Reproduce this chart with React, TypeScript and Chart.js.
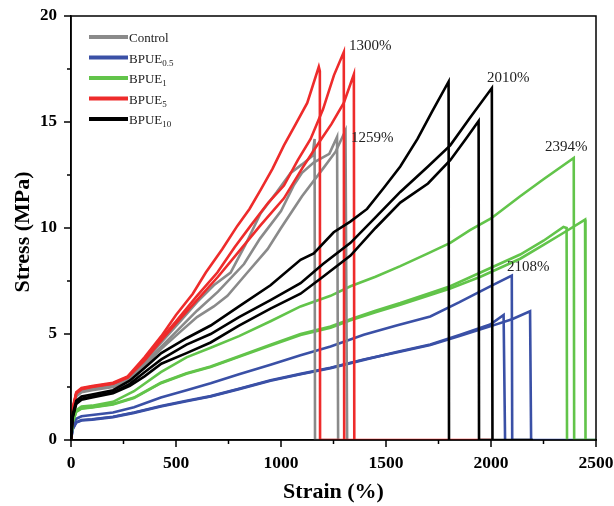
import React, { useEffect, useRef } from "react";
import { Chart, registerables } from "chart.js";

Chart.register(...registerables);

type P = [number, number];

// Control (gray)
const controlA: P[] = [[0,0],[8,1.4],[25,2.15],[50,2.35],[100,2.45],[200,2.6],[270,2.9],[350,3.7],[430,4.6],[520,5.6],[600,6.5],[680,7.3],[760,7.9],[830,9.2],[903,10.7],[980,11.7],[1046,12.6],[1100,13.0],[1150,13.4],[1160,14.2],[1162,0],[1272,0]];
const controlB: P[] = [[0,0],[8,1.35],[25,2.1],[50,2.3],[100,2.4],[200,2.55],[270,2.85],[350,3.6],[430,4.4],[520,5.3],[600,6.1],[700,7.0],[824,8.3],[900,9.5],[1000,10.8],[1060,12.0],[1100,12.6],[1157,13.1],[1230,13.5],[1267,14.3],[1272,0]];
const controlC: P[] = [[0,0],[8,1.3],[25,2.05],[50,2.25],[100,2.35],[200,2.5],[270,2.8],[350,3.5],[430,4.3],[520,5.1],[600,5.8],[680,6.3],[745,6.8],[840,7.9],[936,9.0],[1000,10.0],[1100,11.5],[1200,12.8],[1260,13.6],[1307,14.6],[1315,0]];

// BPUE0.5 (blue)
const bpue05A: P[] = [[0,0],[8,0.65],[25,1.0],[50,1.12],[100,1.18],[200,1.3],[300,1.55],[428,2.0],[550,2.35],[665,2.68],[800,3.1],[950,3.55],[1093,4.0],[1236,4.41],[1394,4.96],[1550,5.4],[1711,5.83],[1850,6.5],[1996,7.25],[2099,7.75],[2101,0],[2500,0]];
const bpue05B: P[] = [[0,0],[8,0.5],[25,0.82],[50,0.92],[100,0.96],[200,1.08],[300,1.28],[428,1.58],[550,1.83],[665,2.05],[800,2.4],[950,2.8],[1093,3.1],[1236,3.39],[1394,3.78],[1550,4.15],[1711,4.5],[1850,4.95],[1996,5.45],[2060,5.9],[2067,0]];
const bpue05C: P[] = [[0,0],[8,0.52],[25,0.84],[50,0.94],[100,0.98],[200,1.1],[300,1.3],[428,1.6],[550,1.85],[665,2.07],[800,2.42],[950,2.82],[1093,3.12],[1236,3.41],[1394,3.8],[1550,4.13],[1711,4.48],[1850,4.9],[1996,5.36],[2100,5.7],[2186,6.07],[2191,0]];

// BPUE1 (green)
const bpue1A: P[] = [[0,0],[8,0.9],[25,1.4],[50,1.58],[100,1.62],[200,1.8],[300,2.3],[428,3.2],[550,3.9],[665,4.35],[800,4.9],[950,5.6],[1093,6.3],[1236,6.8],[1331,7.25],[1450,7.7],[1568,8.2],[1700,8.8],[1806,9.3],[1900,9.9],[2000,10.45],[2139,11.5],[2250,12.3],[2394,13.3],[2396,0],[2500,0]];
const bpue1B: P[] = [[0,0],[8,0.85],[25,1.35],[50,1.5],[100,1.55],[200,1.7],[300,2.0],[428,2.7],[550,3.15],[665,3.47],[800,3.95],[950,4.5],[1093,5.0],[1236,5.35],[1331,5.7],[1450,6.1],[1568,6.46],[1700,6.9],[1806,7.25],[1950,7.9],[2139,8.75],[2250,9.4],[2345,10.05],[2360,10.0],[2362,0]];
const bpue1C: P[] = [[0,0],[8,0.83],[25,1.33],[50,1.48],[100,1.53],[200,1.68],[300,1.98],[428,2.68],[550,3.12],[665,3.44],[800,3.92],[950,4.46],[1093,4.95],[1236,5.3],[1331,5.65],[1450,6.03],[1568,6.38],[1700,6.8],[1806,7.15],[1950,7.7],[2139,8.55],[2250,9.2],[2350,9.8],[2448,10.4],[2450,0]];

// BPUE5 (red)
const bpue5A: P[] = [[0,0],[8,1.5],[25,2.25],[50,2.45],[100,2.55],[200,2.7],[270,3.0],[350,3.9],[430,4.9],[500,5.9],[580,6.9],[642,7.9],[720,9.0],[792,10.1],[850,10.9],[903,11.8],[960,12.8],[1014,13.9],[1070,14.9],[1125,15.9],[1180,17.6],[1185,17.4],[1186,0],[2005,0]];
const bpue5B: P[] = [[0,0],[8,1.45],[25,2.2],[50,2.4],[100,2.5],[200,2.65],[270,2.95],[350,3.8],[430,4.8],[500,5.6],[600,6.8],[697,7.9],[780,9.1],[855,10.1],[940,11.2],[1014,12.0],[1080,13.2],[1141,14.2],[1200,15.6],[1252,17.2],[1299,18.3],[1301,0]];
const bpue5C: P[] = [[0,0],[8,1.4],[25,2.2],[50,2.42],[100,2.52],[200,2.66],[270,2.95],[350,3.75],[430,4.7],[500,5.5],[600,6.6],[700,7.7],[800,8.9],[900,10.1],[1014,11.4],[1100,12.8],[1172,13.9],[1240,14.9],[1299,15.9],[1347,17.25],[1349,0]];

// BPUE10 (black)
const bpue10A: P[] = [[0,0],[8,1.2],[25,1.85],[50,2.05],[100,2.15],[200,2.35],[280,2.8],[350,3.4],[430,4.1],[550,4.8],[665,5.4],[800,6.3],[950,7.3],[1093,8.5],[1156,8.8],[1251,9.8],[1330,10.3],[1410,10.9],[1490,11.9],[1568,12.9],[1650,14.2],[1720,15.5],[1798,16.9],[1800,0]];
const bpue10B: P[] = [[0,0],[8,1.1],[25,1.75],[50,1.95],[100,2.05],[200,2.25],[280,2.65],[350,3.2],[430,3.8],[550,4.5],[665,5.0],[800,5.8],[950,6.6],[1093,7.4],[1200,8.3],[1331,9.3],[1450,10.5],[1568,11.7],[1700,12.9],[1806,13.9],[1900,15.2],[2004,16.6],[2007,0]];
const bpue10C: P[] = [[0,0],[8,1.05],[25,1.7],[50,1.9],[100,2.0],[200,2.2],[280,2.55],[350,3.0],[430,3.6],[550,4.1],[665,4.6],[800,5.4],[950,6.2],[1093,6.9],[1200,7.7],[1331,8.7],[1450,10.0],[1568,11.2],[1700,12.1],[1806,13.2],[1880,14.2],[1941,15.05],[1943,0],[2200,0]];

const xTicks = [0, 500, 1000, 1500, 2000, 2500];
const yTicks = [0, 5, 10, 15, 20];

const legendNames = ["Control", "BPUE", "BPUE", "BPUE", "BPUE"];
const legendSubs = ["", "0.5", "1", "5", "10"];
const legendColors = ["#8a8a8a", "#3a50a6", "#62c44a", "#ee2b2b", "#000000"];

const annotations: { text: string; x: number; y: number }[] = [
  { text: "1300%", x: 349, y: 46 },
  { text: "1259%", x: 351, y: 138 },
  { text: "2010%", x: 487, y: 78 },
  { text: "2394%", x: 545, y: 147 },
  { text: "2108%", x: 507, y: 267 },
];

const FONT = '"Liberation Serif", "Times New Roman", serif';

const groups: { data: P[][]; color: string; order: number }[] = [
  { data: [controlA, controlB, controlC], color: legendColors[0], order: 2 },
  { data: [bpue05A, bpue05B, bpue05C], color: legendColors[1], order: 4 },
  { data: [bpue1A, bpue1B, bpue1C], color: legendColors[2], order: 3 },
  { data: [bpue5A, bpue5B, bpue5C], color: legendColors[3], order: 1 },
  { data: [bpue10A, bpue10B, bpue10C], color: legendColors[4], order: 0 },
];

const overlay = {
  id: "overlay",
  afterDraw(chart: any) {
    const ctx = chart.ctx as CanvasRenderingContext2D;
    const a = chart.chartArea;
    const xs = chart.scales.x;
    const ys = chart.scales.y;
    ctx.save();
    ctx.strokeStyle = "#000";
    ctx.lineWidth = 1.5;
    ctx.strokeRect(a.left, a.top, a.right - a.left, a.bottom - a.top);
    // ticks
    for (let v = 0; v <= 2500; v += 250) {
      const px = xs.getPixelForValue(v);
      const len = v % 500 === 0 ? 7 : 4;
      ctx.beginPath();
      ctx.moveTo(px, a.bottom);
      ctx.lineTo(px, a.bottom + len);
      ctx.stroke();
    }
    for (let v = 0; v <= 20; v += 2.5) {
      const py = ys.getPixelForValue(v);
      const len = v % 5 === 0 ? 7 : 4;
      ctx.beginPath();
      ctx.moveTo(a.left, py);
      ctx.lineTo(a.left - len, py);
      ctx.stroke();
    }
    // tick labels
    ctx.fillStyle = "#000";
    ctx.textBaseline = "middle";
    ctx.font = `bold 17.5px ${FONT}`;
    ctx.textAlign = "center";
    for (const v of xTicks) ctx.fillText(String(v), xs.getPixelForValue(v), 463);
    ctx.font = `bold 17px ${FONT}`;
    ctx.textAlign = "right";
    for (const v of yTicks) ctx.fillText(String(v), 57, ys.getPixelForValue(v));
    // titles
    ctx.font = `bold 22px ${FONT}`;
    ctx.textAlign = "center";
    ctx.fillText("Strain (%)", (a.left + a.right) / 2, 492);
    ctx.save();
    ctx.translate(23, 232);
    ctx.rotate(-Math.PI / 2);
    ctx.fillText("Stress (MPa)", 0, 0);
    ctx.restore();
    // legend
    ctx.textAlign = "left";
    ctx.textBaseline = "alphabetic";
    for (let i = 0; i < legendNames.length; i++) {
      const y = 37 + i * 20.5;
      ctx.strokeStyle = legendColors[i];
      ctx.lineWidth = 4;
      ctx.beginPath();
      ctx.moveTo(89, y);
      ctx.lineTo(128, y);
      ctx.stroke();
      ctx.fillStyle = "#222";
      ctx.font = `13px ${FONT}`;
      ctx.fillText(legendNames[i], 129, y + 5);
      if (legendSubs[i]) {
        const w = ctx.measureText(legendNames[i]).width;
        ctx.font = `9px ${FONT}`;
        ctx.fillText(legendSubs[i], 129 + w, y + 8);
      }
    }
    // annotations
    ctx.font = `15px ${FONT}`;
    ctx.fillStyle = "#222";
    ctx.textBaseline = "middle";
    for (const an of annotations) ctx.fillText(an.text, an.x, an.y);
    ctx.restore();
  },
};

export default function App() {
  const ref = useRef<HTMLCanvasElement | null>(null);
  useEffect(() => {
    if (!ref.current) return;
    const datasets: any[] = [];
    groups.forEach((g) => {
      g.data.forEach((d) => {
        datasets.push({
          data: d.map(([x, y]) => ({ x, y })),
          borderColor: g.color,
          backgroundColor: g.color,
          borderWidth: 2.6,
          pointRadius: 0,
          tension: 0,
          fill: false,
          order: g.order,
        });
      });
    });
    const chart = new Chart(ref.current, {
      type: "line",
      data: { datasets },
      options: {
        animation: false,
        responsive: false,
        devicePixelRatio: 1,
        layout: { padding: { top: 16, right: 18, left: 0, bottom: 0 } },
        plugins: { legend: { display: false }, tooltip: { enabled: false } },
        scales: {
          x: {
            type: "linear",
            min: 0,
            max: 2500,
            afterFit: (s: any) => { s.height = 66; },
            afterBuildTicks: (s: any) => { s.ticks = xTicks.map((v) => ({ value: v })); },
            grid: { display: false },
            border: { display: true, color: "#000", width: 1.5 },
            ticks: { display: false },
          },
          y: {
            type: "linear",
            min: 0,
            max: 20,
            afterFit: (s: any) => { s.width = 71; },
            afterBuildTicks: (s: any) => { s.ticks = yTicks.map((v) => ({ value: v })); },
            grid: { display: false },
            border: { display: true, color: "#000", width: 1.5 },
            ticks: { display: false },
          },
        },
      },
      plugins: [overlay],
    });
    return () => chart.destroy();
  }, []);
  return (
    <div style={{ position: "fixed", left: 0, top: 0, width: 614, height: 506, background: "#fff" }}>
      <canvas ref={ref} width={614} height={506} style={{ width: 614, height: 506 }} />
    </div>
  );
}
